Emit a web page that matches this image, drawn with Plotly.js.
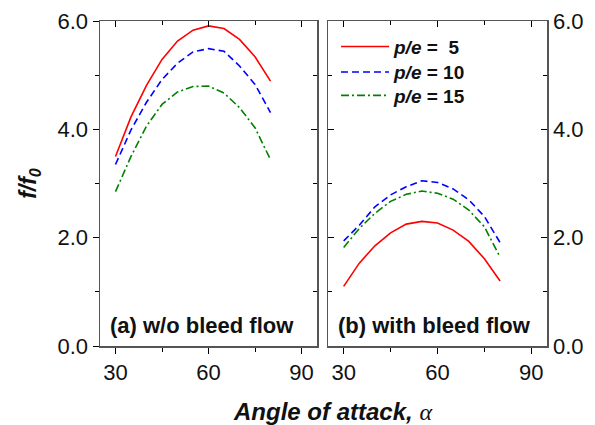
<!DOCTYPE html>
<html>
<head>
<meta charset="utf-8">
<script src="https://cdn.plot.ly/plotly-3.0.1.min.js"></script>
<style>
  html, body { margin: 0; padding: 0; background: #fff; }
  #chart { width: 595px; height: 425px; }
</style>
</head>
<body>
<div id="chart"></div>
<script>
// Angle of attack (deg)
const angles = [30, 35, 40, 45, 50, 55, 60, 65, 70, 75, 80];

// (a) without bleed flow: f/f0
const noBleedPe5  = [3.50, 4.23, 4.81, 5.29, 5.63, 5.83, 5.91, 5.86, 5.66, 5.34, 4.89];
const noBleedPe10 = [3.35, 3.99, 4.50, 4.92, 5.22, 5.43, 5.49, 5.44, 5.17, 4.83, 4.31];
const noBleedPe15 = [2.85, 3.50, 4.06, 4.46, 4.69, 4.79, 4.80, 4.67, 4.40, 4.03, 3.44];

// (b) with bleed flow: f/f0
const bleedPe5  = [1.10, 1.53, 1.85, 2.09, 2.25, 2.30, 2.27, 2.14, 1.93, 1.61, 1.20];
const bleedPe10 = [1.94, 2.23, 2.57, 2.79, 2.94, 3.05, 3.02, 2.90, 2.70, 2.39, 1.91];
const bleedPe15 = [1.82, 2.17, 2.45, 2.67, 2.80, 2.86, 2.82, 2.71, 2.51, 2.20, 1.64];

const seriesNames = ['<b><i>p/e</i> =  5</b>', '<b><i>p/e</i> = 10</b>', '<b><i>p/e</i> = 15</b>'];
const xTicks = [30, 60, 90];
const yTicks = [0, 2, 4, 6];
const yTickText = ['0.0', '2.0', '4.0', '6.0'];
const panelLabels = ['<b>(a) w/o bleed flow</b>', '<b>(b) with bleed flow</b>'];

const FONT = 'Liberation Sans, Arial, sans-serif';
const styles = [
  {color: '#ff0000', width: 1.6, dash: 'solid'},
  {color: '#0000ff', width: 1.6, dash: '7px,4px'},
  {color: '#008000', width: 1.6, dash: '8px,3px,2px,3px'}
];
const legendIds = ['legend', 'legend2', 'legend3'];

const traces = [];
[noBleedPe5, noBleedPe10, noBleedPe15].forEach((ys, i) => {
  traces.push({x: angles, y: ys, xaxis: 'x', yaxis: 'y', mode: 'lines',
    line: styles[i], name: seriesNames[i], showlegend: false, hoverinfo: 'skip'});
});
[bleedPe5, bleedPe10, bleedPe15].forEach((ys, i) => {
  traces.push({x: angles, y: ys, xaxis: 'x2', yaxis: 'y2', mode: 'lines',
    line: styles[i], name: seriesNames[i], showlegend: true, legend: legendIds[i], hoverinfo: 'skip'});
});
// empty traces so the frame axes (top and opposite side) get drawn
[['x3', 'y'], ['x', 'y3'], ['x4', 'y2'], ['x2', 'y4']].forEach(([xa, ya]) => {
  traces.push({x: [null], y: [null], xaxis: xa, yaxis: ya, mode: 'lines',
    showlegend: false, hoverinfo: 'skip'});
});

const lineCol = '#555';
const common = {
  showline: true, linecolor: lineCol, linewidth: 1.5,
  showgrid: false, zeroline: false, tickcolor: '#000', tickwidth: 1,
  tickfont: {family: FONT, size: 22, color: '#111'}
};
const xBase = Object.assign({}, common, {
  range: [25, 95], tickvals: xTicks, ticklen: 6,
  minor: {tickvals: [45, 75], ticklen: 4, tickcolor: '#000'}
});
const yBase = Object.assign({}, common, {
  range: [0, 6], tickvals: yTicks, ticktext: yTickText, ticklen: 6,
  minor: {tickvals: [1, 3, 5], ticklen: 4, tickcolor: '#000'}
});
function withMinorTicks(base, dir) {
  const o = Object.assign({}, base, {ticks: dir});
  o.minor = Object.assign({}, base.minor, {ticks: dir});
  return o;
}

const dLeft = [0, 0.4855];
const dRight = [0.5101, 1];

function legendAt(yPaper) {
  return {
    x: 0.528, y: yPaper, xanchor: 'left', yanchor: 'middle',
    bgcolor: 'rgba(0,0,0,0)', borderwidth: 0,
    font: {family: FONT, size: 19, color: '#111'},
    itemwidth: 48
  };
}

const layout = {
  width: 595, height: 425,
  margin: {l: 100, r: 48, t: 21, b: 79},
  paper_bgcolor: '#fff', plot_bgcolor: '#fff',
  showlegend: true,
  legend: legendAt(0.921),
  legend2: legendAt(0.8426),
  legend3: legendAt(0.7707),
  // left panel
  xaxis: Object.assign(withMinorTicks(xBase, 'outside'), {domain: dLeft, anchor: 'y'}),
  yaxis: Object.assign(withMinorTicks(yBase, 'outside'), {domain: [0, 1], anchor: 'x', side: 'left',
    title: {text: '<b><i>f/f<sub>0</sub></i></b>', font: {family: FONT, size: 23, color: '#111'}, standoff: 14}}),
  xaxis3: Object.assign(withMinorTicks(xBase, 'inside'), {overlaying: 'x', anchor: 'y', side: 'top', showticklabels: false}),
  yaxis3: Object.assign(withMinorTicks(yBase, 'inside'), {overlaying: 'y', anchor: 'x', side: 'right', showticklabels: false}),
  // right panel
  xaxis2: Object.assign(withMinorTicks(xBase, 'outside'), {domain: dRight, anchor: 'y2'}),
  yaxis2: Object.assign(withMinorTicks(yBase, 'inside'), {domain: [0, 1], anchor: 'x2', side: 'right'}),
  xaxis4: Object.assign(withMinorTicks(xBase, 'inside'), {overlaying: 'x2', anchor: 'y2', side: 'top', showticklabels: false}),
  yaxis4: Object.assign(withMinorTicks(yBase, 'inside'), {overlaying: 'y2', anchor: 'x2', side: 'left', showticklabels: false}),
  annotations: [
    {xref: 'x domain', yref: 'y domain', x: 0.035, y: 0.064, xanchor: 'left', yanchor: 'middle',
     text: panelLabels[0], showarrow: false, font: {family: FONT, size: 22, color: '#111'}},
    {xref: 'x2 domain', yref: 'y2 domain', x: 0.035, y: 0.064, xanchor: 'left', yanchor: 'middle',
     text: panelLabels[1], showarrow: false, font: {family: FONT, size: 22, color: '#111'}},
    {xref: 'paper', yref: 'paper', x: 0.521, y: -0.2, xanchor: 'center', yanchor: 'middle',
     text: '<b><i>Angle of attack, </i></b><span style="font-family:Liberation Serif"><i>α</i></span>',
     showarrow: false, font: {family: FONT, size: 24, color: '#111'}}
  ]
};

Plotly.newPlot('chart', traces, layout, {staticPlot: true, displayModeBar: false});
</script>
</body>
</html>
